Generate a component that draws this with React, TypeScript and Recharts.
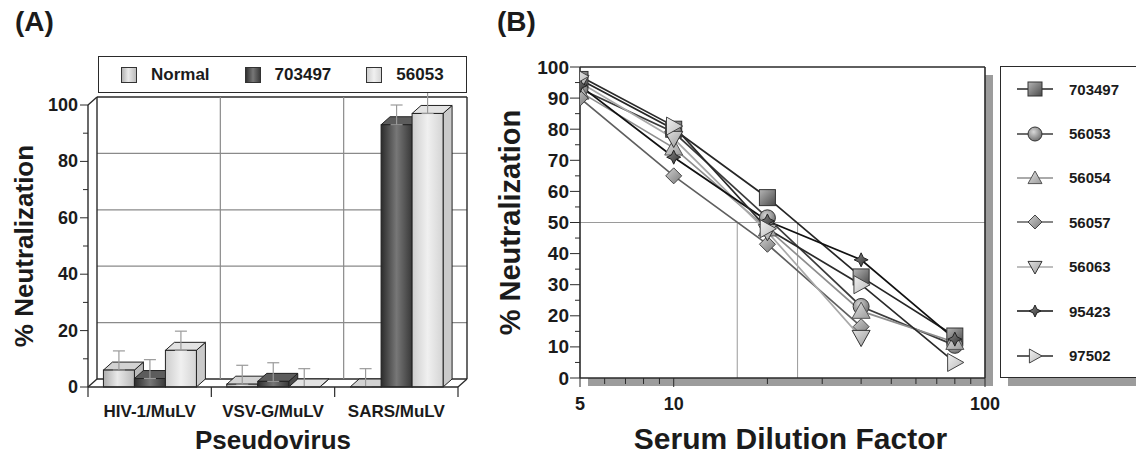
import React from "react";
import {
  BarChart,
  Bar,
  XAxis,
  YAxis,
  ErrorBar,
  Legend,
  LineChart,
  Line,
  ReferenceLine,
  ReferenceArea,
} from "recharts";

// ─── Data: panel A (pseudovirus neutralization) ──────────────────────────────

const pseudoviruses = ["HIV-1/MuLV", "VSV-G/MuLV", "SARS/MuLV"];
const normalValues = [6, 1, 0];
const normalErrors = [6.8, 6.7, 6.5];
const v703497Bars = [3, 2, 93];
const e703497Bars = [6.7, 6.6, 7];
const v56053Bars = [13, 0, 97];
const e56053Bars = [6.8, 6.5, 7.6];
const barValueTicks = [0, 10, 20, 30, 40, 50, 60, 70, 80, 90, 100];
const barGridTicks = [0, 20, 40, 60, 80, 100];
const categoryEdgeTicks = [0, 1, 2, 3];
const categoryAxisTicks = [0, 0.5, 1, 1.5, 2, 2.5, 3];

// ─── Data: panel B (serum dilution curves) ───────────────────────────────────

const dilutionFactors = [5, 10, 20, 40, 80];
const v703497 = [96, 80, 58, 32.5, 13.5];
const v56053 = [93, 79, 51.5, 23, 10.5];
const v56054 = [92, 74, 48, 21.5, 11.5];
const v56057 = [90, 65, 43, 16.5, null];
const v56063 = [95, 77, 47, 13, null];
const v95423 = [94, 71, 50.5, 38, 12.5];
const v97502 = [97, 81, 48, 30, 5];
const dilutionTicks = [5, 6, 7, 8, 9, 10, 20, 30, 40, 50, 60, 70, 80, 90, 100];
const dilutionLabels = [5, 10, 100];
const neutTicks = [0, 5, 10, 15, 20, 25, 30, 35, 40, 45, 50, 55, 60, 65, 70, 75, 80, 85, 90, 95, 100];
const ed50Marks = [16, 25];

// ─── Styles ───────────────────────────────────────────────────────────────────

const FONT = '"Liberation Sans", Arial, Helvetica, sans-serif';
const INK = "#1b1b1b";
const EDGE = "#2a2a2a";
const GRID = "#8a8a8a";
const DX = 9;
const DY = -8;

type BarStyle = { key: string; name: string; grad: string; top: string; side: string };

const BAR_STYLES: BarStyle[] = [
  { key: "normal", name: "Normal", grad: "barNormal", top: "#d2d2d2", side: "#bababa" },
  { key: "b703497", name: "703497", grad: "bar703497", top: "#5c5c5c", side: "#4a4a4a" },
  { key: "b56053", name: "56053", grad: "bar56053", top: "#e3e3e3", side: "#cacaca" },
];

type MarkerKind = "square" | "circle" | "triangle" | "diamond" | "down" | "star" | "right";
type LineStyle = { key: string; name: string; color: string; kind: MarkerKind; fill: string; mstroke: string };

const LINE_STYLES: LineStyle[] = [
  { key: "s703497", name: "703497", color: "#262626", kind: "square", fill: "url(#mkSquare)", mstroke: "#333" },
  { key: "s56053", name: "56053", color: "#3c3c3c", kind: "circle", fill: "url(#mkCircle)", mstroke: "#333" },
  { key: "s56054", name: "56054", color: "#8e8e8e", kind: "triangle", fill: "url(#mkLight)", mstroke: "#555" },
  { key: "s56057", name: "56057", color: "#5f5f5f", kind: "diamond", fill: "url(#mkMid)", mstroke: "#444" },
  { key: "s56063", name: "56063", color: "#a9a9a9", kind: "down", fill: "url(#mkLight)", mstroke: "#333" },
  { key: "s95423", name: "95423", color: "#111111", kind: "star", fill: "url(#mkDark)", mstroke: "#222" },
  { key: "s97502", name: "97502", color: "#2a2a2a", kind: "right", fill: "url(#mkPale)", mstroke: "#444" },
];

// ─── Tables built from the arrays ────────────────────────────────────────────

const barData = pseudoviruses.map((name, i) => ({
  name,
  pos: i + 0.5,
  normal: normalValues[i],
  normalErr: [0, normalErrors[i]],
  b703497: v703497Bars[i],
  b703497Err: [0, e703497Bars[i]],
  b56053: v56053Bars[i],
  b56053Err: [0, e56053Bars[i]],
}));

// error bars stretch the value axis; fix its top there so 0–100 keeps its place
const barAxisTop = Math.max(
  ...normalValues.map((v, i) => v + normalErrors[i]),
  ...v703497Bars.map((v, i) => v + e703497Bars[i]),
  ...v56053Bars.map((v, i) => v + e56053Bars[i]),
  100
);
const A_FLOOR = 387;
const A_PX_PER_UNIT = 2.82;
const A_MARGIN_TOP = A_FLOOR - A_PX_PER_UNIT * barAxisTop;

const lineData = dilutionFactors.map((d, i) => ({
  dilution: d,
  s703497: v703497[i],
  s56053: v56053[i],
  s56054: v56054[i],
  s56057: v56057[i],
  s56063: v56063[i],
  s95423: v95423[i],
  s97502: v97502[i],
}));

// keep legend entries in the order the series are declared
const inOrder = (payload: any[] | undefined, keys: string[]) =>
  [...(payload || [])].sort((a, b) => keys.indexOf(a.dataKey) - keys.indexOf(b.dataKey));

// ─── Shared pieces ───────────────────────────────────────────────────────────

function Gradients() {
  return (
    <defs>
      <linearGradient id="barNormal" x1="0" y1="0" x2="1" y2="0">
        <stop offset="0" stopColor="#adadad" />
        <stop offset="0.45" stopColor="#e9e9e9" />
        <stop offset="1" stopColor="#b9b9b9" />
      </linearGradient>
      <linearGradient id="bar703497" x1="0" y1="0" x2="1" y2="0">
        <stop offset="0" stopColor="#2c2c2c" />
        <stop offset="0.5" stopColor="#777777" />
        <stop offset="1" stopColor="#383838" />
      </linearGradient>
      <linearGradient id="bar56053" x1="0" y1="0" x2="1" y2="0">
        <stop offset="0" stopColor="#cdcdcd" />
        <stop offset="0.5" stopColor="#f0f0f0" />
        <stop offset="1" stopColor="#d4d4d4" />
      </linearGradient>
      <linearGradient id="mkSquare" x1="0" y1="0" x2="1" y2="1">
        <stop offset="0" stopColor="#b5b5b5" />
        <stop offset="1" stopColor="#4a4a4a" />
      </linearGradient>
      <radialGradient id="mkCircle" cx="0.4" cy="0.35" r="0.7">
        <stop offset="0" stopColor="#d8d8d8" />
        <stop offset="1" stopColor="#6a6a6a" />
      </radialGradient>
      <linearGradient id="mkLight" x1="0" y1="0" x2="1" y2="1">
        <stop offset="0" stopColor="#e2e2e2" />
        <stop offset="1" stopColor="#9a9a9a" />
      </linearGradient>
      <linearGradient id="mkMid" x1="0" y1="0" x2="1" y2="1">
        <stop offset="0" stopColor="#d0d0d0" />
        <stop offset="1" stopColor="#7a7a7a" />
      </linearGradient>
      <linearGradient id="mkDark" x1="0" y1="0" x2="1" y2="1">
        <stop offset="0" stopColor="#8a8a8a" />
        <stop offset="1" stopColor="#2e2e2e" />
      </linearGradient>
      <linearGradient id="mkPale" x1="0" y1="0" x2="1" y2="1">
        <stop offset="0" stopColor="#f2f2f2" />
        <stop offset="1" stopColor="#b8b8b8" />
      </linearGradient>
    </defs>
  );
}

function MarkerShape({ kind, cx, cy, r, fill, stroke }: { kind: MarkerKind; cx: number; cy: number; r: number; fill: string; stroke: string }) {
  const common = { fill, stroke, strokeWidth: 1 };
  switch (kind) {
    case "square":
      return <rect x={cx - r} y={cy - r} width={2 * r} height={2 * r} {...common} />;
    case "circle":
      return <circle cx={cx} cy={cy} r={r} {...common} />;
    case "triangle":
      return <polygon points={`${cx},${cy - r} ${cx + r},${cy + r * 0.8} ${cx - r},${cy + r * 0.8}`} {...common} />;
    case "diamond":
      return <polygon points={`${cx},${cy - r} ${cx + r},${cy} ${cx},${cy + r} ${cx - r},${cy}`} {...common} />;
    case "down":
      return <polygon points={`${cx - r},${cy - r * 0.8} ${cx + r},${cy - r * 0.8} ${cx},${cy + r}`} {...common} />;
    case "star": {
      const k = r * 0.32;
      return (
        <polygon
          points={`${cx},${cy - r} ${cx + k},${cy - k} ${cx + r},${cy} ${cx + k},${cy + k} ${cx},${cy + r} ${cx - k},${cy + k} ${cx - r},${cy} ${cx - k},${cy - k}`}
          {...common}
        />
      );
    }
    case "right":
      return <polygon points={`${cx - r * 0.8},${cy - r} ${cx + r},${cy} ${cx - r * 0.8},${cy + r}`} {...common} />;
  }
  return null;
}

const boldText = { fontFamily: FONT, fontWeight: 700, fill: INK } as const;

function RotatedTitle({ viewBox, text, dx, cy, size }: any) {
  const cx = viewBox.x + dx;
  const y = cy ?? viewBox.y + viewBox.height / 2;
  return (
    <text x={cx} y={y} transform={`rotate(-90 ${cx} ${y})`} textAnchor="middle" dominantBaseline="central" fontSize={size} {...boldText}>
      {text}
    </text>
  );
}

function BottomTitle({ viewBox, text, dx, bottom, size }: any) {
  return (
    <text x={viewBox.x + viewBox.width / 2 + dx} y={viewBox.y + viewBox.height - bottom} textAnchor="middle" fontSize={size} {...boldText}>
      {text}
    </text>
  );
}

// ─── Panel A helpers ─────────────────────────────────────────────────────────

// back-wall line: the reference line pushed back by the 3-D depth
const wallLine = (edge: boolean, floor: boolean, top: boolean) => (p: any) => {
  const { x1, y1, x2, y2 } = p;
  return (
    <g>
      <line x1={x1 + DX} y1={y1 + DY} x2={x2 + DX} y2={y2 + DY} stroke={edge ? EDGE : GRID} strokeWidth={edge ? 1.4 : 1.2} />
      {(floor || top) && <line x1={x1} y1={y1} x2={x1 + DX} y2={y1 + DY} stroke={EDGE} strokeWidth={1.4} />}
      {floor && <line x1={x2} y1={y2} x2={x2 + DX} y2={y2 + DY} stroke={EDGE} strokeWidth={1.4} />}
    </g>
  );
};

const make3DBar = (style: BarStyle) => (p: any) => {
  const { x, y, width: w, height: h, index } = p;
  if (x == null || y == null) return <g key={`e-${index}`} />;
  return (
    <g key={`${style.key}-${index}`}>
      <polygon
        points={`${x + w},${y} ${x + w + DX},${y + DY} ${x + w + DX},${y + h + DY} ${x + w},${y + h}`}
        fill={style.side}
        stroke="#222"
        strokeWidth={1}
      />
      <polygon
        points={`${x},${y} ${x + DX},${y + DY} ${x + w + DX},${y + DY} ${x + w},${y}`}
        fill={style.top}
        stroke="#222"
        strokeWidth={1}
      />
      <rect x={x} y={y} width={w} height={h} fill={`url(#${style.grad})`} stroke="#222" strokeWidth={1} />
    </g>
  );
};

function BarValueTick({ x, y, payload }: any) {
  const major = payload.value % 20 === 0;
  return (
    <g>
      <line x1={x - (major ? 8 : 5)} y1={y} x2={x} y2={y} stroke={EDGE} strokeWidth={1} />
      {major && (
        <text x={x - 10} y={y} textAnchor="end" dominantBaseline="central" fontSize={18} {...boldText}>
          {payload.value}
        </text>
      )}
    </g>
  );
}

function CategoryTick({ x, y, payload }: any) {
  const v = payload.value;
  if (Number.isInteger(v)) {
    return <line x1={x} y1={y} x2={x} y2={y + 10} stroke={EDGE} strokeWidth={1.2} />;
  }
  return (
    <text x={x} y={y + 30} textAnchor="middle" fontSize={17} {...boldText}>
      {pseudoviruses[Math.floor(v)]}
    </text>
  );
}

function BarLegend({ payload }: any) {
  const entries = inOrder(payload, BAR_STYLES.map((s) => s.key));
  return (
    <div
      style={{
        boxSizing: "border-box",
        width: "100%",
        height: "100%",
        border: `1.5px solid ${EDGE}`,
        background: "#fff",
        display: "flex",
        alignItems: "center",
        paddingLeft: 22,
        fontFamily: FONT,
        fontWeight: 700,
        fontSize: 17,
        color: INK,
      }}
    >
      {entries.map((entry: any, i: number) => {
        const style = BAR_STYLES.find((s) => s.key === entry.dataKey) || BAR_STYLES[i];
        return (
          <div key={entry.value} style={{ display: "flex", alignItems: "center", marginRight: 35 }}>
            <svg width={16} height={16} style={{ marginRight: 14 }}>
              <rect x={0.5} y={0.5} width={15} height={15} fill={`url(#${style.grad})`} stroke="#333" strokeWidth={1} />
            </svg>
            <span>{entry.value}</span>
          </div>
        );
      })}
    </div>
  );
}

function PanelA() {
  return (
    <BarChart
      width={480}
      height={454}
      data={barData}
      margin={{ top: A_MARGIN_TOP, right: 22, left: 0, bottom: 0 }}
      barCategoryGap="12.5%"
      barGap={0}
    >
      <Gradients />
      <XAxis
        xAxisId="num"
        dataKey="pos"
        type="number"
        domain={[0, 3]}
        ticks={categoryAxisTicks}
        interval={0}
        height={67}
        tickSize={0}
        tickMargin={0}
        tickLine={false}
        axisLine={{ stroke: EDGE, strokeWidth: 1.4 }}
        tick={<CategoryTick />}
        label={(props: any) => <BottomTitle {...props} text="Pseudovirus" dx={0} bottom={5} size={26} />}
      />
      <XAxis xAxisId="cat" dataKey="name" type="category" height={0} hide />
      <YAxis
        yAxisId="val"
        type="number"
        domain={[0, barAxisTop]}
        ticks={barValueTicks}
        interval={0}
        width={88}
        tickSize={0}
        tickMargin={0}
        tickLine={false}
        axisLine={false}
        tick={<BarValueTick />}
        label={(props: any) => <RotatedTitle {...props} text="% Neutralization" dx={24} cy={246} size={26} />}
      />
      {/* back wall: horizontal grid + top/floor edges */}
      {barGridTicks.map((v, i) => (
        <ReferenceLine
          key={`h-${v}`}
          xAxisId="num"
          yAxisId="val"
          y={v}
          zIndex={-10}
          shape={wallLine(i === 0 || i === barGridTicks.length - 1, i === 0, i === barGridTicks.length - 1)}
        />
      ))}
      {/* back wall: category separators */}
      {categoryEdgeTicks.map((v, i) => (
        <ReferenceLine
          key={`v-${v}`}
          xAxisId="num"
          yAxisId="val"
          segment={[
            { x: v, y: 0 },
            { x: v, y: 100 },
          ]}
          zIndex={-10}
          shape={wallLine(i === 0 || i === categoryEdgeTicks.length - 1, false, false)}
        />
      ))}
      {/* front value axis */}
      <ReferenceLine
        xAxisId="num"
        yAxisId="val"
        segment={[
          { x: 0, y: 0 },
          { x: 0, y: 100 },
        ]}
        stroke={EDGE}
        strokeWidth={1.4}
      />
      <Legend
        layout="horizontal"
        align="center"
        verticalAlign="middle"
        content={<BarLegend />}
        wrapperStyle={{ left: 98, top: 56, width: 369, height: 37 }}
      />
      {BAR_STYLES.map((s) => (
        <Bar
          key={s.key}
          xAxisId="cat"
          yAxisId="val"
          dataKey={s.key}
          name={s.name}
          fill="#bbb"
          shape={make3DBar(s)}
          isAnimationActive={false}
        >
          <ErrorBar dataKey={`${s.key}Err`} direction="y" width={6} stroke="#9a9a9a" strokeWidth={1.2} />
        </Bar>
      ))}
    </BarChart>
  );
}

// ─── Panel B helpers ─────────────────────────────────────────────────────────

function DilutionTick({ x, y, payload }: any) {
  const labelled = dilutionLabels.includes(payload.value);
  return (
    <g>
      <line x1={x} y1={y} x2={x} y2={y + (labelled ? 9 : 6)} stroke={EDGE} strokeWidth={1} />
      {labelled && (
        <text x={x} y={y + 32} textAnchor="middle" fontSize={18} {...boldText}>
          {payload.value}
        </text>
      )}
    </g>
  );
}

function NeutTick({ x, y, payload }: any) {
  const major = payload.value % 10 === 0;
  return (
    <g>
      <line x1={x - (major ? 10 : 5)} y1={y} x2={x} y2={y} stroke={EDGE} strokeWidth={1} />
      {major && (
        <text x={x - 11} y={y} textAnchor="end" dominantBaseline="central" fontSize={19} {...boldText}>
          {payload.value}
        </text>
      )}
    </g>
  );
}

const PlotFrame = (p: any) => {
  const { x, y, width: w, height: h } = p;
  return (
    <g>
      <rect x={x + w} y={y + 8} width={8} height={h} fill="#9c9c9c" />
      <rect x={x + 8} y={y + h} width={w} height={8} fill="#9c9c9c" />
      <line x1={x} y1={y} x2={x + w} y2={y} stroke={EDGE} strokeWidth={1.6} />
      <line x1={x + w} y1={y} x2={x + w} y2={y + h} stroke={EDGE} strokeWidth={1.6} />
    </g>
  );
};

const makeDot = (s: LineStyle) => (p: any) => {
  const { cx, cy, index } = p;
  if (cx == null || cy == null || p.value == null) return <g key={`${s.key}-d-${index}`} />;
  const r = s.kind === "star" ? 7 : s.kind === "right" || s.kind === "triangle" || s.kind === "down" ? 9 : 8;
  return (
    <g key={`${s.key}-d-${index}`}>
      <MarkerShape kind={s.kind} cx={cx} cy={cy} r={r} fill={s.fill} stroke={s.mstroke} />
    </g>
  );
};

function LineLegend({ payload }: any) {
  const entries = inOrder(payload, LINE_STYLES.map((s) => s.key));
  return (
    <div
      style={{
        boxSizing: "border-box",
        width: "100%",
        height: "100%",
        border: `1.5px solid ${EDGE}`,
        background: "#fff",
        boxShadow: "8px 8px 0 #9c9c9c",
        fontFamily: FONT,
        fontWeight: 700,
        fontSize: 15,
        color: INK,
      }}
    >
      {entries.map((entry: any, i: number) => {
        const s = LINE_STYLES.find((l) => l.key === entry.dataKey) || LINE_STYLES[i];
        return (
          <div key={entry.value} style={{ height: 44.4, display: "flex", alignItems: "center" }}>
            <svg width={36} height={22} style={{ marginLeft: 16 }}>
              <line x1={0} y1={11} x2={36} y2={11} stroke={s.color} strokeWidth={1.6} />
              <MarkerShape kind={s.kind} cx={18} cy={11} r={s.kind === "star" ? 6 : 7} fill={s.fill} stroke={s.mstroke} />
            </svg>
            <span style={{ marginLeft: 16 }}>{entry.value}</span>
          </div>
        );
      })}
    </div>
  );
}

function PanelB() {
  return (
    <LineChart width={656} height={454} data={lineData} margin={{ top: 67, right: 151, left: 0, bottom: 0 }}>
      <Gradients />
      <ReferenceArea x1={5} x2={100} y1={0} y2={100} shape={PlotFrame} ifOverflow="visible" />
      <ReferenceLine y={50} stroke="#9a9a9a" strokeWidth={1} zIndex={-10} />
      {ed50Marks.map((m) => (
        <ReferenceLine
          key={m}
          segment={[
            { x: m, y: 0 },
            { x: m, y: 50 },
          ]}
          stroke="#9a9a9a"
          strokeWidth={1}
          zIndex={-10}
        />
      ))}
      <XAxis
        dataKey="dilution"
        type="number"
        scale="log"
        domain={[5, 100]}
        ticks={dilutionTicks}
        interval={0}
        allowDataOverflow
        height={76}
        tickSize={0}
        tickMargin={0}
        tickLine={false}
        axisLine={{ stroke: EDGE, strokeWidth: 1.6 }}
        tick={<DilutionTick />}
        label={(props: any) => <BottomTitle {...props} text="Serum Dilution Factor" dx={8} bottom={5} size={30} />}
      />
      <YAxis
        type="number"
        domain={[0, 100]}
        ticks={neutTicks}
        interval={0}
        width={100}
        tickSize={0}
        tickMargin={0}
        tickLine={false}
        axisLine={{ stroke: EDGE, strokeWidth: 1.6 }}
        tick={<NeutTick />}
        label={(props: any) => <RotatedTitle {...props} text="% Neutralization" dx={30} size={29} />}
      />
      <Legend
        layout="vertical"
        align="center"
        verticalAlign="middle"
        content={<LineLegend />}
        wrapperStyle={{ left: 520, top: 66, width: 145, height: 312 }}
      />
      {LINE_STYLES.map((s) => (
        <Line
          key={s.key}
          dataKey={s.key}
          name={s.name}
          stroke={s.color}
          strokeWidth={1.7}
          dot={makeDot(s)}
          activeDot={false}
          connectNulls={false}
          isAnimationActive={false}
        />
      ))}
    </LineChart>
  );
}

// ─── App ─────────────────────────────────────────────────────────────────────

export default function App() {
  const panelLabel = { position: "absolute" as const, top: 6, fontFamily: FONT, fontWeight: 700, fontSize: 28, color: INK };
  return (
    <div style={{ position: "absolute", left: 0, top: 0, width: 1136, height: 454, overflow: "hidden", background: "#fff" }}>
      <div style={{ position: "absolute", left: 0, top: 0 }}>
        <PanelA />
      </div>
      <div style={{ position: "absolute", left: 480, top: 0 }}>
        <PanelB />
      </div>
      <div style={{ ...panelLabel, left: 15 }}>(A)</div>
      <div style={{ ...panelLabel, left: 497 }}>(B)</div>
    </div>
  );
}
